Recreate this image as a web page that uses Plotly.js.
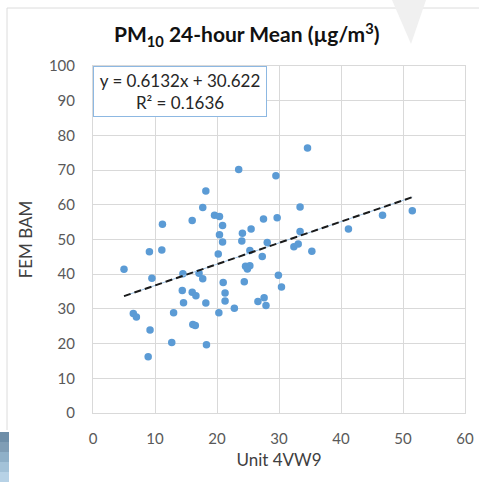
<!DOCTYPE html>
<html>
<head>
<meta charset="utf-8">
<script src="https://cdn.plot.ly/plotly-3.0.1.min.js"></script>
<style>html,body{margin:0;padding:0;background:#fff;}#chart{width:479px;height:482px;}</style>
</head>
<body>
<div id="chart"></div>
<script>
// Unit 4VW9 readings (x) and FEM BAM readings (y)
const unit4VW9 = [5.0, 6.5, 7.0, 8.9, 9.1, 9.2, 9.5, 11.2, 11.1, 12.7, 13.0, 14.5, 14.4, 14.6, 16.0, 16.0, 16.6, 16.1, 16.5, 17.1, 17.7, 17.7, 18.2, 18.2, 18.3, 19.6, 20.4, 20.9, 20.4, 20.9, 20.2, 21.0, 21.3, 21.3, 20.3, 22.8, 23.5, 24.1, 25.5, 24.0, 25.3, 24.4, 24.6, 25.3, 24.9, 26.6, 27.6, 27.9, 27.3, 27.5, 28.1, 29.5, 29.7, 29.9, 30.4, 32.4, 33.1, 33.4, 33.4, 34.6, 35.3, 41.2, 46.7, 51.5];
const femBAM   = [41.4, 28.7, 27.7, 16.2, 46.5, 23.9, 38.8, 54.4, 47.0, 20.3, 28.9, 40.1, 35.3, 31.8, 55.5, 34.8, 33.8, 25.5, 25.2, 40.3, 38.7, 59.2, 64.0, 31.7, 19.7, 57.0, 56.6, 54.0, 51.4, 49.3, 45.8, 37.6, 34.6, 32.3, 28.9, 30.2, 70.2, 51.8, 53.0, 49.6, 46.8, 37.8, 42.3, 42.4, 41.5, 32.1, 33.2, 31.0, 45.1, 55.9, 49.1, 68.4, 56.3, 39.7, 36.3, 47.9, 48.7, 52.3, 59.4, 76.4, 46.6, 53.0, 57.0, 58.3];
const trendSlope = 0.6132;
const trendIntercept = 30.622;
const rSquared = 0.1636;
const xTicks = [0, 10, 20, 30, 40, 50, 60];
const yTicks = [0, 10, 20, 30, 40, 50, 60, 70, 80, 90, 100];

const xMin = Math.min(...unit4VW9), xMax = Math.max(...unit4VW9);
const trendX = [xMin, xMax];
const trendY = trendX.map(v => trendSlope * v + trendIntercept);

const FONT = 'Lato, "Open Sans", sans-serif';
const W = 479, H = 482, L = 93, R = 14, T = 66, B = 69;
const pw = W - L - R, ph = H - T - B;
const px = v => (v - L) / pw;
const py = v => (H - B - v) / ph;

const traces = [
  {x: unit4VW9, y: femBAM, type: 'scatter', mode: 'markers',
   marker: {color: '#5b9bd5', size: 7.5}, hoverinfo: 'x+y'},
  {x: trendX, y: trendY, type: 'scatter', mode: 'lines',
   line: {color: '#9dc3e6', width: 1}, hoverinfo: 'skip'},
  {x: trendX, y: trendY, type: 'scatter', mode: 'lines',
   line: {color: '#1a1a1a', width: 2, dash: '7px,4px'}, hoverinfo: 'skip'}
];

const shapes = [
  {type: 'line', xref: 'paper', yref: 'paper', x0: px(7), x1: px(479), y0: py(8), y1: py(8), line: {color: '#dcdcdc', width: 1}},
  {type: 'line', xref: 'paper', yref: 'paper', x0: px(7), x1: px(7), y0: py(8), y1: py(430), line: {color: '#dcdcdc', width: 1}},
  {type: 'path', xref: 'paper', yref: 'paper', path: `M ${px(392)} ${py(0)} L ${px(426)} ${py(0)} L ${px(411)} ${py(44)} Z`, fillcolor: '#f0f0f0', line: {width: 0}},
];
const grad = ['#6e8ea8', '#7f9db5', '#8fb0c8', '#a3c2d8', '#b7d2e6'];
grad.forEach((c, i) => {
  shapes.push({type: 'rect', xref: 'paper', yref: 'paper', x0: px(0), x1: px(9), y0: py(432 + i * 10), y1: py(442 + i * 10), fillcolor: c, line: {width: 0}});
});

const layout = {
  width: W, height: H,
  margin: {l: L, r: R, t: T, b: B},
  paper_bgcolor: '#ffffff', plot_bgcolor: '#ffffff',
  showlegend: false,
  font: {family: FONT, color: '#595959'},
  title: {text: 'PM<sub>10</sub> 24-hour Mean (µg/m<sup>3</sup>)', font: {family: FONT, size: 21, color: '#111111', weight: 'bold'},
          x: 0.515, xanchor: 'center', yref: 'container', y: 1 - 35 / H, yanchor: 'middle'},
  xaxis: {range: [0, 60], tickvals: xTicks, ticktext: xTicks.map(String), showgrid: true, gridcolor: '#d9d9d9', gridwidth: 1,
          zeroline: false, showline: true, linecolor: '#d9d9d9', mirror: true, ticks: '', ticklabelstandoff: 12,
          tickfont: {family: FONT, size: 15, color: '#595959'},
          title: {text: 'Unit 4VW9', font: {family: FONT, size: 17, color: '#404040'}, standoff: 8}, fixedrange: true},
  yaxis: {range: [0, 100], tickvals: yTicks, ticktext: yTicks.map(String), showgrid: true, gridcolor: '#d9d9d9', gridwidth: 1,
          zeroline: false, showline: true, linecolor: '#d9d9d9', mirror: true, ticks: '', ticklabelstandoff: 14,
          tickfont: {family: FONT, size: 15, color: '#595959'},
          title: {text: 'FEM BAM', font: {family: FONT, size: 17, color: '#404040'}, standoff: 11}, fixedrange: true},
  annotations: [{
    xref: 'paper', yref: 'paper', x: 0, y: 1, xanchor: 'left', yanchor: 'top',
    text: `y = ${trendSlope}x + ${trendIntercept}<br>R² = ${rSquared}`,
    showarrow: false, align: 'center', width: 170, height: 47,
    font: {family: FONT, size: 17, color: '#262626'},
    bgcolor: '#ffffff', bordercolor: '#8db8e2', borderwidth: 1, borderpad: 1
  }],
  shapes: shapes
};

Plotly.newPlot('chart', traces, layout, {displayModeBar: false, staticPlot: true});
</script>
</body>
</html>
